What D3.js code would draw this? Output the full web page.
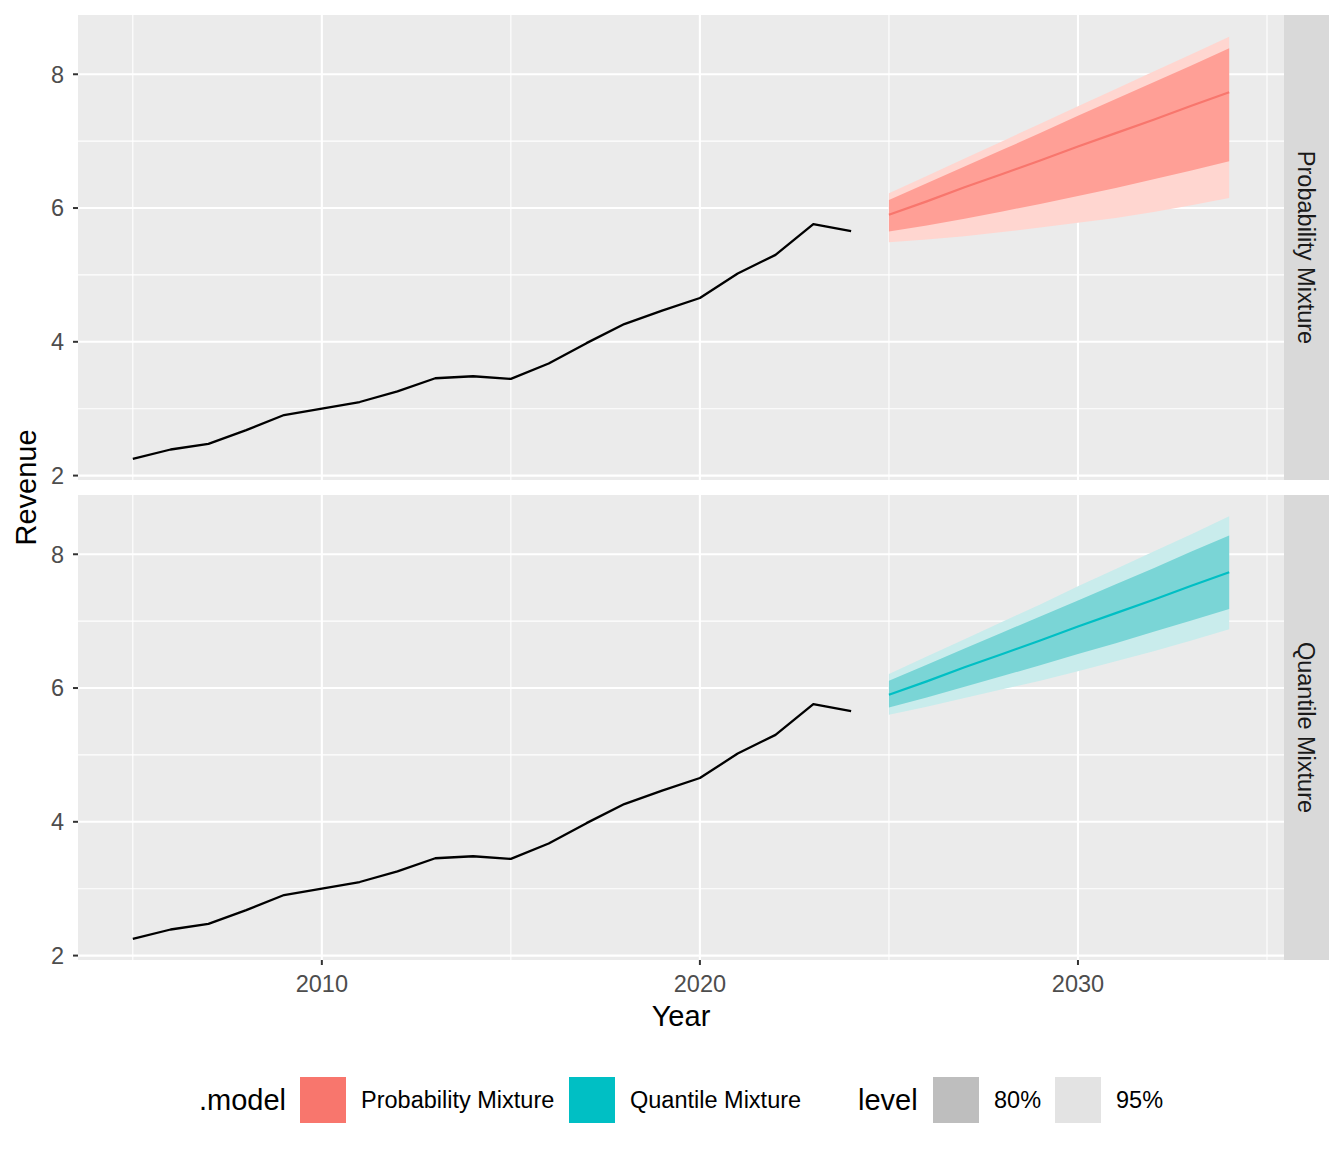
<!DOCTYPE html>
<html>
<head>
<meta charset="utf-8">
<script src="https://d3js.org/d3.v7.min.js"></script>
<style>
  body { margin: 0; background: #fff; }
  text { font-family: "Liberation Sans", Arial, sans-serif; }
  .tick-label { fill: #4D4D4D; font-size: 23.5px; }
</style>
</head>
<body>
<svg id="chart" width="1344" height="1152"></svg>
<script>
// history (same in both panels)
const years = [2005, 2006, 2007, 2008, 2009, 2010, 2011, 2012, 2013, 2014,
               2015, 2016, 2017, 2018, 2019, 2020, 2021, 2022, 2023, 2024];
const revenue = [2.25, 2.39, 2.475, 2.68, 2.905, 3.00, 3.10, 3.26, 3.455, 3.485,
                 3.445, 3.675, 3.98, 4.265, 4.465, 4.655, 5.02, 5.30, 5.76, 5.655];

// forecasts
const fcYears = [2025, 2026, 2027, 2028, 2029, 2030, 2031, 2032, 2033, 2034];
const models = ["Probability Mixture", "Quantile Mixture"];

const probMean = [5.90, 6.10, 6.31, 6.51, 6.71, 6.92, 7.12, 7.32, 7.53, 7.73];
const probHi80 = [6.12, 6.37, 6.62, 6.87, 7.12, 7.38, 7.63, 7.88, 8.13, 8.39];
const probLo80 = [5.65, 5.74, 5.84, 5.95, 6.06, 6.18, 6.30, 6.43, 6.56, 6.70];
const probHi95 = [6.22, 6.48, 6.74, 7.00, 7.26, 7.52, 7.78, 8.04, 8.30, 8.56];
const probLo95 = [5.49, 5.53, 5.58, 5.64, 5.71, 5.78, 5.85, 5.94, 6.04, 6.15];

const quantMean = [5.90, 6.10, 6.31, 6.51, 6.71, 6.92, 7.12, 7.32, 7.53, 7.73];
const quantHi80 = [6.11, 6.35, 6.59, 6.83, 7.07, 7.31, 7.55, 7.79, 8.04, 8.28];
const quantLo80 = [5.71, 5.86, 6.02, 6.18, 6.34, 6.51, 6.67, 6.84, 7.01, 7.18];
const quantHi95 = [6.21, 6.47, 6.73, 6.99, 7.25, 7.52, 7.78, 8.04, 8.30, 8.57];
const quantLo95 = [5.60, 5.72, 5.85, 5.98, 6.11, 6.25, 6.40, 6.55, 6.71, 6.88];

const xTicks = [2010, 2020, 2030];
const xMinor = [2005, 2015, 2025, 2035];
const yTicks = [2, 4, 6, 8];
const yMinor = [3, 5, 7];

const levels = ["80%", "95%"];

const svg = d3.select("svg#chart");
const panelLeft = 78, panelRight = 1284;
const panels = [
  {top: 15, bottom: 480, name: models[0], col: "#F8766D", dark: "#FF9F96", light: "#FFD6D0",
   mean: probMean, hi80: probHi80, lo80: probLo80, hi95: probHi95, lo95: probLo95},
  {top: 495, bottom: 960, name: models[1], col: "#00BFC4", dark: "#7AD5D6", light: "#C9ECEC",
   mean: quantMean, hi80: quantHi80, lo80: quantLo80, hi95: quantHi95, lo95: quantLo95}
];

// ggplot-style 5% expansion
const xr = [d3.min(years), d3.max(fcYears)];
const xPad = (xr[1] - xr[0]) * 0.05;
const x = d3.scaleLinear().domain([xr[0] - xPad, xr[1] + xPad]).range([panelLeft, panelRight]);

const allY = revenue.concat(probHi95, probLo95, quantHi95, quantLo95);
const yr = d3.extent(allY);
const yPad = (yr[1] - yr[0]) * 0.05;

panels.forEach(p => {
  const y = d3.scaleLinear().domain([yr[0] - yPad, yr[1] + yPad]).range([p.bottom, p.top]);
  const g = svg.append("g");

  g.append("rect").attr("x", panelLeft).attr("y", p.top)
    .attr("width", panelRight - panelLeft).attr("height", p.bottom - p.top)
    .attr("fill", "#EBEBEB");

  // gridlines
  g.selectAll("line.yminor").data(yMinor).join("line")
    .attr("x1", panelLeft).attr("x2", panelRight)
    .attr("y1", d => y(d)).attr("y2", d => y(d))
    .attr("stroke", "#fff").attr("stroke-width", 1.1);
  g.selectAll("line.xminor").data(xMinor).join("line")
    .attr("y1", p.top).attr("y2", p.bottom)
    .attr("x1", d => x(d)).attr("x2", d => x(d))
    .attr("stroke", "#fff").attr("stroke-width", 1.1);
  g.selectAll("line.ymajor").data(yTicks).join("line")
    .attr("x1", panelLeft).attr("x2", panelRight)
    .attr("y1", d => y(d)).attr("y2", d => y(d))
    .attr("stroke", "#fff").attr("stroke-width", 2.1);
  g.selectAll("line.xmajor").data(xTicks).join("line")
    .attr("y1", p.top).attr("y2", p.bottom)
    .attr("x1", d => x(d)).attr("x2", d => x(d))
    .attr("stroke", "#fff").attr("stroke-width", 2.1);

  // forecast ribbons
  const fc = fcYears.map((yy, i) => ({year: yy, mean: p.mean[i], hi80: p.hi80[i], lo80: p.lo80[i],
                                       hi95: p.hi95[i], lo95: p.lo95[i]}));
  g.append("path").datum(fc).attr("fill", p.light)
    .attr("d", d3.area().x(d => x(d.year)).y0(d => y(d.lo95)).y1(d => y(d.hi95)));
  g.append("path").datum(fc).attr("fill", p.dark)
    .attr("d", d3.area().x(d => x(d.year)).y0(d => y(d.lo80)).y1(d => y(d.hi80)));
  g.append("path").datum(fc).attr("fill", "none").attr("stroke", p.col).attr("stroke-width", 2.2)
    .attr("d", d3.line().x(d => x(d.year)).y(d => y(d.mean)));

  // history
  const hist = years.map((yy, i) => ({year: yy, v: revenue[i]}));
  g.append("path").datum(hist).attr("fill", "none").attr("stroke", "#000").attr("stroke-width", 2.3)
    .attr("stroke-linejoin", "round")
    .attr("d", d3.line().x(d => x(d.year)).y(d => y(d.v)));

  // y axis
  g.selectAll("line.ytick").data(yTicks).join("line")
    .attr("x1", panelLeft - 5).attr("x2", panelLeft)
    .attr("y1", d => y(d)).attr("y2", d => y(d))
    .attr("stroke", "#333").attr("stroke-width", 2);
  g.selectAll("text.ylab").data(yTicks).join("text").attr("class", "tick-label")
    .attr("x", panelLeft - 14).attr("y", d => y(d)).attr("dy", "0.36em")
    .attr("text-anchor", "end").text(d => d);

  // strip
  g.append("rect").attr("x", panelRight).attr("y", p.top)
    .attr("width", 45).attr("height", p.bottom - p.top).attr("fill", "#D9D9D9");
  g.append("text")
    .attr("transform", `translate(${panelRight + 22.5},${(p.top + p.bottom) / 2}) rotate(90)`)
    .attr("text-anchor", "middle").attr("dy", "0.36em")
    .attr("fill", "#1A1A1A").style("font-size", "23.5px").text(p.name);
});

// x axis (bottom panel)
const xb = panels[1].bottom;
svg.selectAll("line.xtick").data(xTicks).join("line")
  .attr("x1", d => x(d)).attr("x2", d => x(d))
  .attr("y1", xb).attr("y2", xb + 5)
  .attr("stroke", "#333").attr("stroke-width", 2);
svg.selectAll("text.xlab").data(xTicks).join("text").attr("class", "tick-label")
  .attr("x", d => x(d)).attr("y", xb + 32)
  .attr("text-anchor", "middle").text(d => d);

// axis titles
svg.append("text").attr("x", (panelLeft + panelRight) / 2).attr("y", 1026)
  .attr("text-anchor", "middle").style("font-size", "29px").attr("fill", "#000").text("Year");
svg.append("text")
  .attr("transform", `translate(36,${(panels[0].top + panels[1].bottom) / 2}) rotate(-90)`)
  .attr("text-anchor", "middle").style("font-size", "29px").attr("fill", "#000").text("Revenue");

// legend
const lg = svg.append("g");
const ly = 1100;
lg.append("text").attr("x", 199).attr("y", ly).attr("dy", "0.36em")
  .style("font-size", "29px").text(".model");
const modelCols = ["#F8766D", "#00BFC4"];
const modelX = [300, 569];
models.forEach((m, i) => {
  lg.append("rect").attr("x", modelX[i]).attr("y", ly - 23).attr("width", 46).attr("height", 46)
    .attr("fill", modelCols[i]);
  lg.append("text").attr("x", modelX[i] + 61).attr("y", ly).attr("dy", "0.36em")
    .style("font-size", "23.5px").text(m);
});
lg.append("text").attr("x", 858).attr("y", ly).attr("dy", "0.36em")
  .style("font-size", "29px").text("level");
const levelCols = ["#BEBEBE", "#E3E3E3"];
const levelX = [933, 1055];
levels.forEach((l, i) => {
  lg.append("rect").attr("x", levelX[i]).attr("y", ly - 23).attr("width", 46).attr("height", 46)
    .attr("fill", levelCols[i]);
  lg.append("text").attr("x", levelX[i] + 61).attr("y", ly).attr("dy", "0.36em")
    .style("font-size", "23.5px").text(l);
});
</script>
</body>
</html>
